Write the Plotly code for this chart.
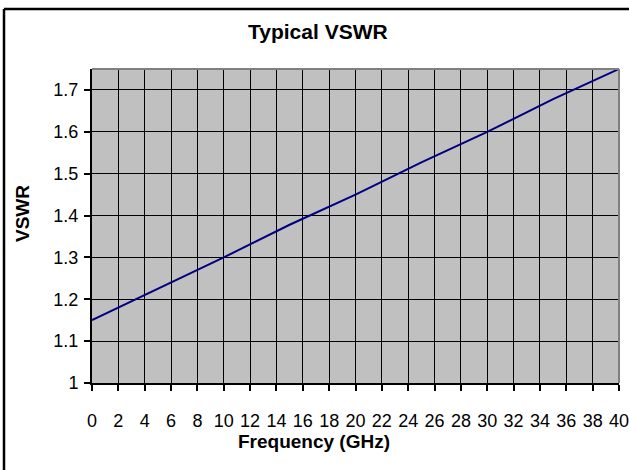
import plotly.graph_objects as go

# Data
freq_ghz = [0, 5, 10, 15, 20, 25, 30, 35, 40]
vswr = [1.15, 1.225, 1.30, 1.378, 1.45, 1.527, 1.60, 1.678, 1.75]

x_tick_vals = [0, 2, 4, 6, 8, 10, 12, 14, 16, 18, 20, 22, 24, 26, 28, 30, 32, 34, 36, 38, 40]
x_tick_text = ["0", "2", "4", "6", "8", "10", "12", "14", "16", "18", "20",
               "22", "24", "26", "28", "30", "32", "34", "36", "38", "40"]
y_tick_vals = [1.0, 1.1, 1.2, 1.3, 1.4, 1.5, 1.6, 1.7]
y_tick_text = ["1", "1.1", "1.2", "1.3", "1.4", "1.5", "1.6", "1.7"]

title_text = "Typical VSWR"
x_title = "Frequency (GHz)"
y_title = "VSWR"

FONT = "Arial, Liberation Sans, sans-serif"

W, H = 629, 470
ML, MR, MT, MB = 92, 10, 69, 87
PW = W - ML - MR
PH = H - MT - MB


def px_x(px):
    return (px - ML) / PW


def px_y(py):
    return (H - MB - py) / PH


fig = go.Figure()
fig.add_trace(go.Scatter(
    x=freq_ghz, y=vswr, mode="lines",
    line=dict(color="#000080", width=2),
    showlegend=False, hoverinfo="skip",
))

axis_common = dict(
    showgrid=True, gridcolor="#000000", gridwidth=1,
    showline=True, linecolor="#000000", linewidth=2,
    ticks="outside", ticklen=6, tickwidth=2, tickcolor="#000000",
    tickfont=dict(family=FONT, size=18, color="#000000"),
    zeroline=False, fixedrange=True, ticklabeloverflow="allow",
    automargin=False,
)

fig.update_xaxes(
    range=[0, 40], tickmode="array", tickvals=x_tick_vals, ticktext=x_tick_text,
    ticklabelstandoff=14, **axis_common,
)
fig.update_yaxes(
    range=[1, 1.75], tickmode="array", tickvals=y_tick_vals, ticktext=y_tick_text,
    ticklabelstandoff=2, **axis_common,
)

shapes = [
    # outer chart border (left and top visible, rest cropped)
    dict(type="line", xref="paper", yref="paper",
         x0=px_x(4), x1=px_x(4), y0=px_y(470), y1=px_y(9),
         line=dict(color="#000000", width=2.5), layer="above"),
    dict(type="line", xref="paper", yref="paper",
         x0=px_x(4), x1=px_x(640), y0=px_y(9), y1=px_y(9),
         line=dict(color="#000000", width=2.5), layer="above"),
    # grey plot border top and right
    dict(type="line", xref="paper", yref="paper", x0=0, x1=1, y0=1, y1=1,
         line=dict(color="#808080", width=2), layer="above"),
    dict(type="line", xref="paper", yref="paper", x0=1, x1=1, y0=0, y1=1,
         line=dict(color="#808080", width=2), layer="above"),
]

annotations = [
    dict(text=f"<b>{title_text}</b>", xref="paper", yref="paper",
         x=px_x(318), y=px_y(31), xanchor="center", yanchor="middle",
         showarrow=False, font=dict(family=FONT, size=21, color="#000000")),
    dict(text=f"<b>{x_title}</b>", xref="paper", yref="paper",
         x=px_x(314), y=px_y(441), xanchor="center", yanchor="middle",
         showarrow=False, font=dict(family=FONT, size=19, color="#000000")),
    dict(text=f"<b>{y_title}</b>", xref="paper", yref="paper",
         x=px_x(22), y=px_y(214), xanchor="center", yanchor="middle",
         textangle=-90, showarrow=False, font=dict(family=FONT, size=19, color="#000000")),
]

fig.update_layout(
    width=W, height=H, autosize=False,
    margin=dict(l=ML, r=MR, t=MT, b=MB, pad=0, autoexpand=False),
    paper_bgcolor="#FFFFFF", plot_bgcolor="#C0C0C0",
    shapes=shapes, annotations=annotations,
    font=dict(family=FONT, color="#000000"),
)

fig.write_html(
    "out.html",
    config={"displayModeBar": False},
    post_script=(
        "document.documentElement.style.margin='0';"
        "document.documentElement.style.overflow='hidden';"
        "document.body.style.margin='0';"
        "document.body.style.overflow='hidden';"
    ),
)
